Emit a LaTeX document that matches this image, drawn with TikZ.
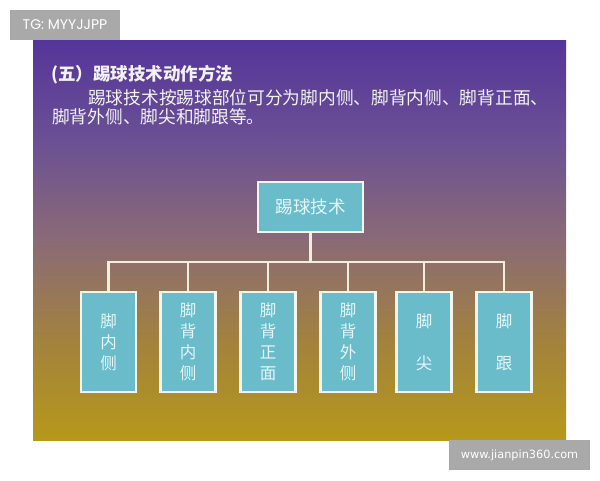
\documentclass[tikz,border=0pt]{standalone}
\usepackage{fontspec}
\setmainfont{DejaVu Sans}
\newfontfamily\cjk{Noto Sans CJK SC}
\newfontfamily\tagfont{Poppins}
\definecolor{boxfill}{HTML}{6BBCCB}
\definecolor{boxline}{HTML}{F4F6EE}
\definecolor{boxtext}{HTML}{E4F6F8}
\definecolor{barline}{HTML}{F2EEDC}
\definecolor{taggray}{HTML}{A9A9A9}
\definecolor{slidetext}{HTML}{F2F2F2}
\definecolor{bgA}{HTML}{55359A}
\definecolor{bgB}{HTML}{6A5094}
\definecolor{bgC}{HTML}{8A6A76}
\definecolor{bgD}{HTML}{A2823E}
\definecolor{bgE}{HTML}{B6981A}
\pgfdeclareverticalshading{slidebg}{100bp}{color(0bp)=(bgE); color(25bp)=(bgE);
  color(37.5bp)=(bgD); color(50bp)=(bgC); color(62.5bp)=(bgB); color(75bp)=(bgA); color(100bp)=(bgA)}
\begin{document}
\begin{tikzpicture}[x=1pt, y=-1pt,
  tech/.style = {draw=boxline, line width=2.2pt, fill=boxfill, text=boxtext,
    inner sep=0pt, align=center},
  link/.style = {draw=barline, line width=2.6pt},
  tag/.style = {fill=taggray, text=white, inner sep=0pt},
  say/.style = {text=slidetext, inner sep=0pt, anchor=base west,
    font=\cjk\fontsize{17.7}{21}\selectfont}]
\useasboundingbox (0,0) rectangle (600,480);
\fill[white] (0,0) rectangle (600,480);
\shade[shading=slidebg] (33,40) rectangle (566,440);
% corner tags
\node[tag, minimum width=110pt, minimum height=30pt, font=\tagfont\fontsize{14}{16}\selectfont]
  (tg) at (65,25) {TG: MYYJJPP};
\node[tag, minimum width=141pt, minimum height=30pt, font=\fontsize{11.3}{13}\selectfont]
  (www) at (519.5,455) {www.jianpin360.com};
% heading and text
\node[say, font=\cjk\bfseries\fontsize{17.5}{21}\selectfont] (title) at (51,80) {(五）踢球技术动作方法};
\node[say] (line2) at (88,104) {踢球技术按踢球部位可分为脚内侧、脚背内侧、脚背正面、};
\node[say] (line3) at (52,123) {脚背外侧、脚尖和脚跟等。};
% chart
\node[tech, minimum width=105pt, minimum height=50pt, font=\cjk\fontsize{17.5}{21}\selectfont]
  (top) at (310.5,207) {踢球技术};
\foreach \x/\t [count=\i] in {108.5/脚\\内\\侧, 188/脚\\背\\内\\侧, 268/脚\\背\\正\\面,
                              348/脚\\背\\外\\侧, 424/脚\\[21pt]尖, 504/脚\\[21pt]跟}{
  \node[tech, minimum width=55pt, minimum height=100pt, font=\cjk\fontsize{16.5}{21}\selectfont]
    (c\i) at (\x,342) {\t};
  \draw[link] (top.south) -- ++(0,29) -| (c\i.north);
}
\end{tikzpicture}
\end{document}
